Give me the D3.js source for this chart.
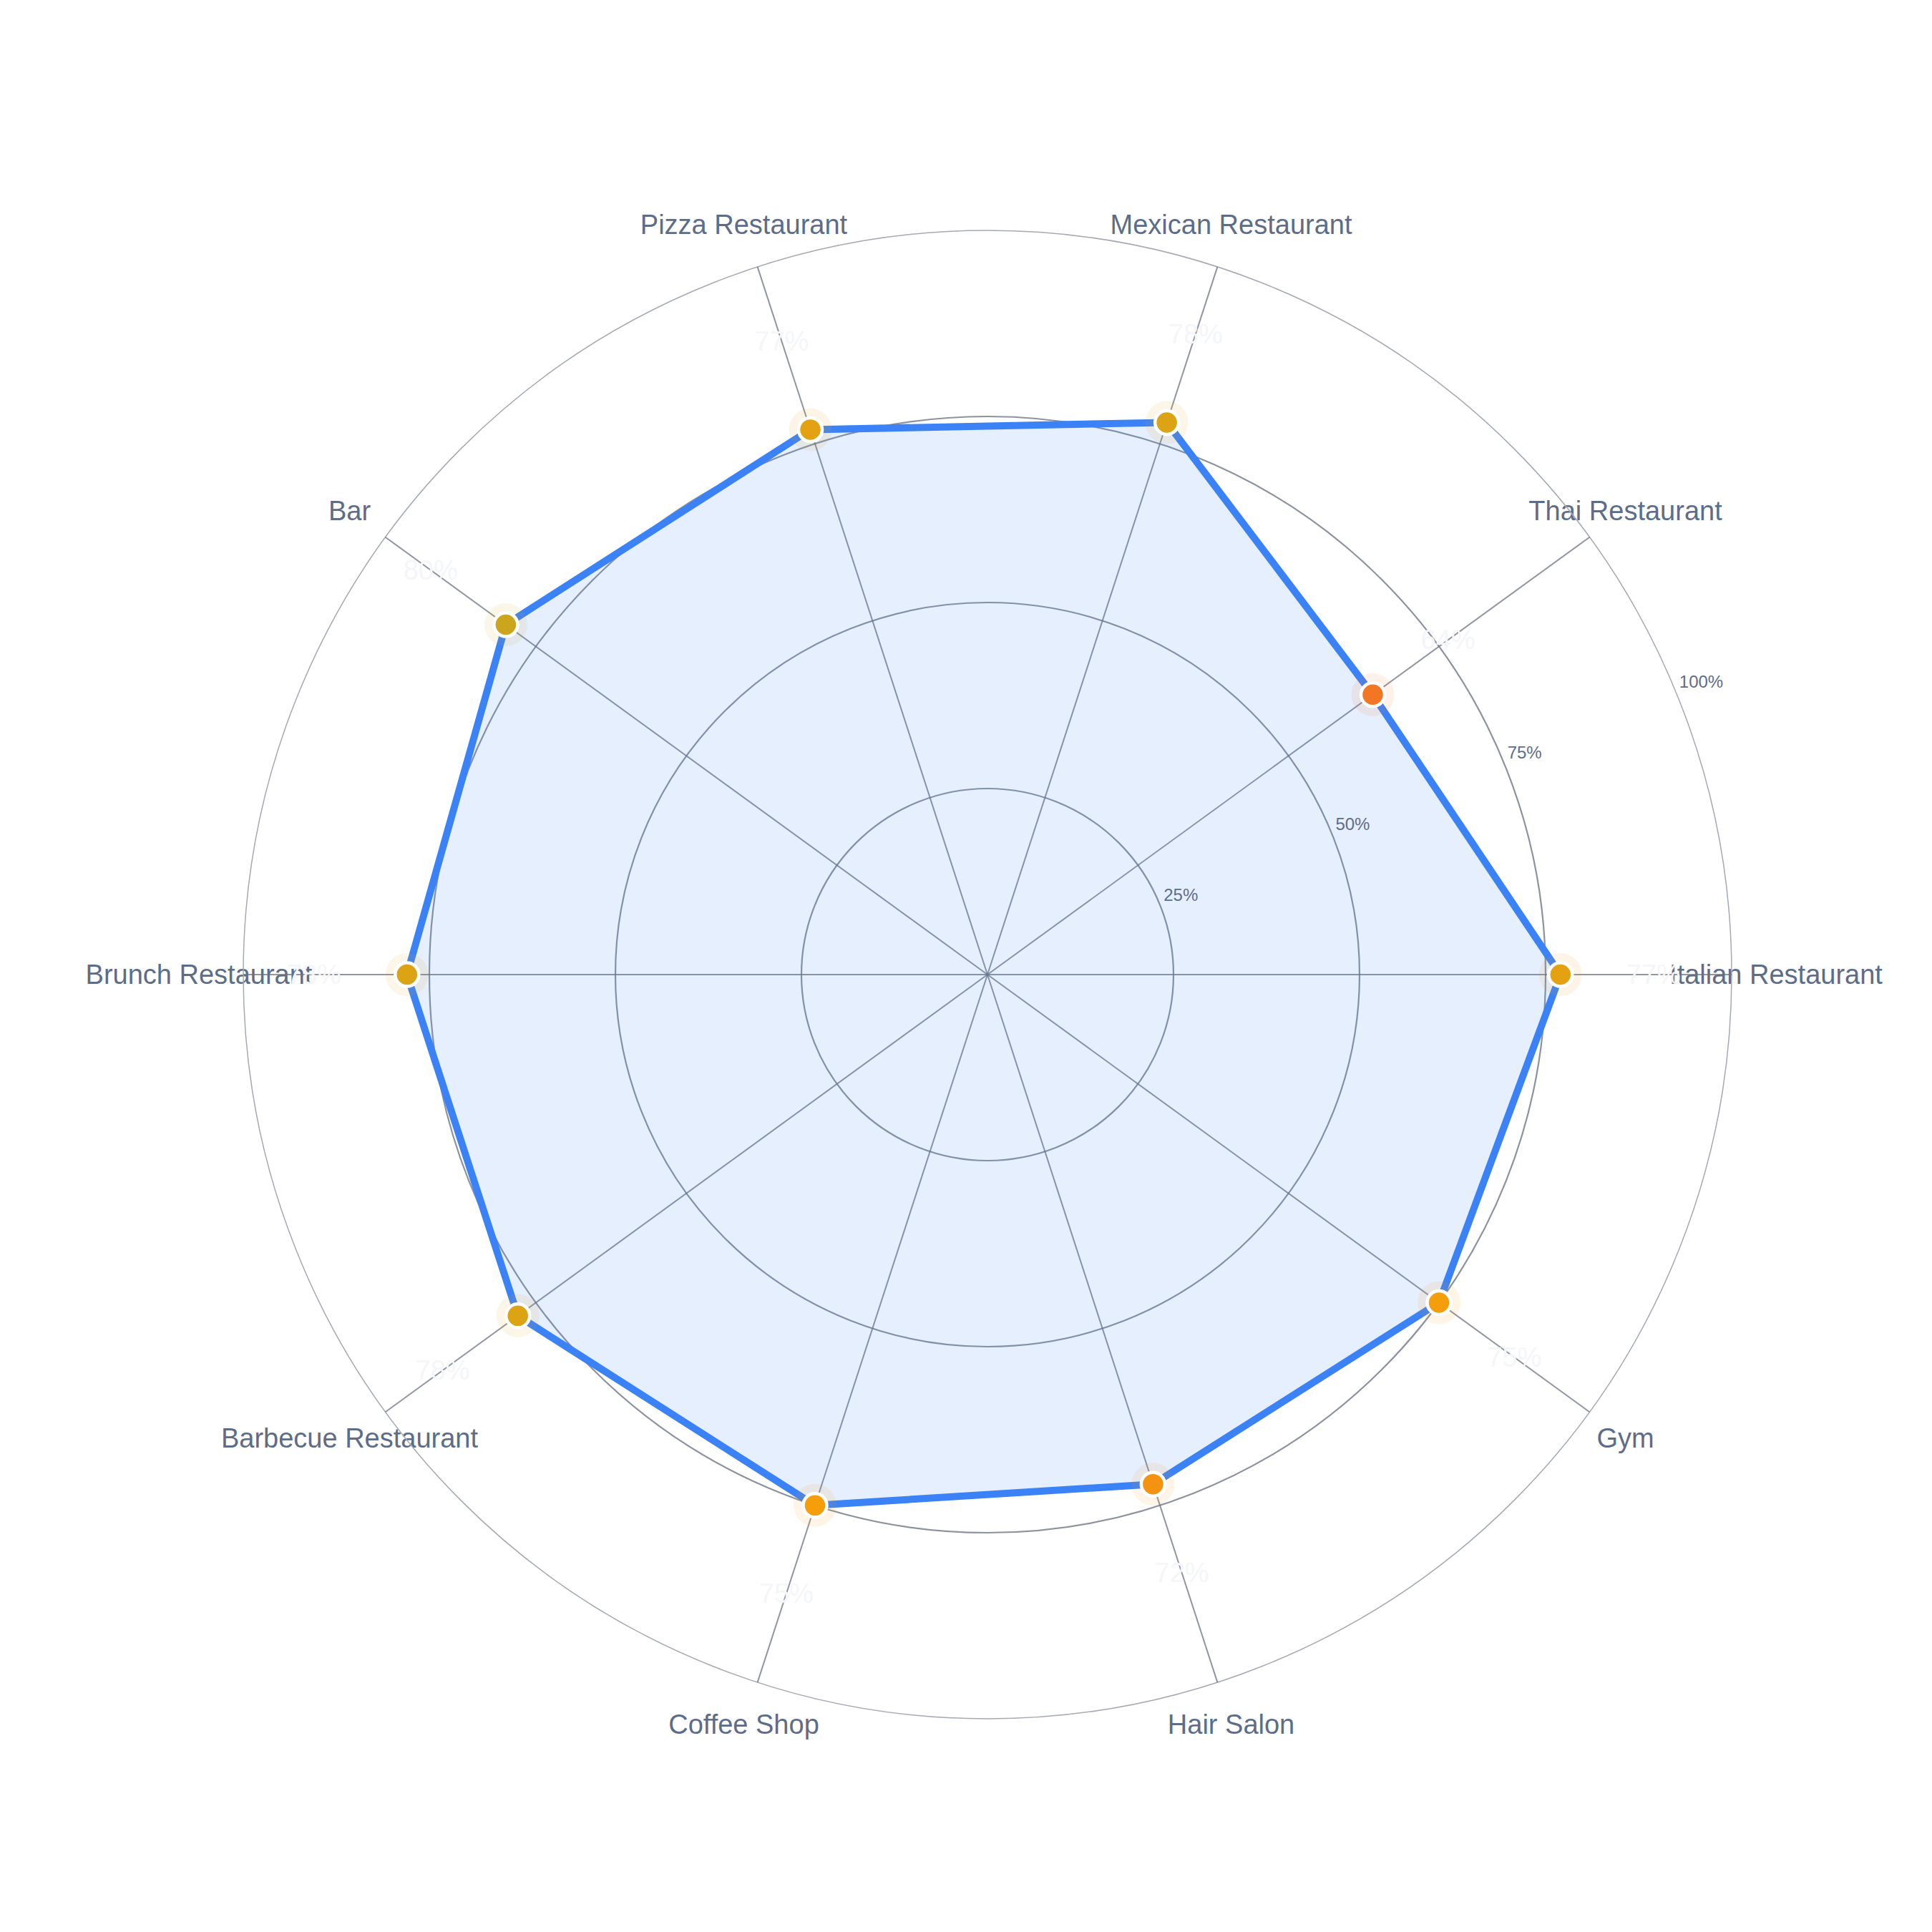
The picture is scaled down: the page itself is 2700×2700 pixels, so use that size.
<!DOCTYPE html>
<html>
<head>
<meta charset="utf-8">
<script src="https://cdn.jsdelivr.net/npm/d3@7"></script>
<style>
  html, body { margin: 0; padding: 0; background: #ffffff; }
  svg { display: block; }
</style>
</head>
<body>
<svg id="chart"></svg>
<script>
// chart data
const categories = ["Italian Restaurant", "Thai Restaurant", "Mexican Restaurant", "Pizza Restaurant", "Bar",
  "Brunch Restaurant", "Barbecue Restaurant", "Coffee Shop", "Hair Salon", "Gym"];
const values = [77, 64, 78, 77, 80, 78, 78, 75, 72, 75];
const ticks = [25, 50, 75, 100];

const width = 2700, height = 2700;
const cx = 1380, cy = 1362;
const outerR = 1040;

const svg = d3.select("#chart")
  .attr("width", width)
  .attr("height", height);

const g = svg.append("g")
  .attr("transform", `translate(${cx},${cy})`);

const rScale = d3.scaleLinear().domain([0, 100]).range([0, outerR]);
// angle measured counter-clockwise from the right (east)
const aScale = d3.scaleLinear().domain([0, categories.length]).range([0, 2 * Math.PI]);
const colorScale = d3.scaleLinear()
  .domain([50, 75, 100])
  .range(["#ef4444", "#f59e0b", "#22c55e"]);

const px = (i, r) => r * Math.cos(aScale(i));
const py = (i, r) => -r * Math.sin(aScale(i));

const font = "'Liberation Sans', Arial, Helvetica, sans-serif";

// category labels (drawn first, grid passes over them)
g.append("g").selectAll("text")
  .data(categories)
  .join("text")
  .attr("x", (d, i) => px(i, outerR + 62))
  .attr("y", (d, i) => py(i, outerR + 62))
  .attr("text-anchor", "middle")
  .attr("dominant-baseline", "central")
  .attr("font-family", font)
  .attr("font-size", 38)
  .attr("fill", "#5e6d87")
  .text(d => d);

// rings
g.append("g").selectAll("circle")
  .data(ticks)
  .join("circle")
  .attr("r", d => rScale(d))
  .attr("fill", "none")
  .attr("stroke", d => d === 100 ? "#a4a9b2" : "#8c939f")
  .attr("stroke-width", d => d === 100 ? 1.5 : 2.2);

// spokes
g.append("g").selectAll("line")
  .data(categories)
  .join("line")
  .attr("x1", 0).attr("y1", 0)
  .attr("x2", (d, i) => px(i, outerR))
  .attr("y2", (d, i) => py(i, outerR))
  .attr("stroke", "#6b7280")
  .attr("stroke-opacity", 0.75)
  .attr("stroke-width", 2);

// data polygon
const radial = d3.lineRadial()
  .angle((d, i) => Math.PI / 2 - aScale(i))
  .radius(d => rScale(d))
  .curve(d3.curveLinearClosed);

g.append("path")
  .datum(values)
  .attr("d", radial)
  .attr("fill", "#3b82f6")
  .attr("fill-opacity", 0.13)
  .attr("stroke", "none");

g.append("path")
  .datum(values)
  .attr("d", radial)
  .attr("fill", "none")
  .attr("stroke", "#3b82f6")
  .attr("stroke-width", 10)
  .attr("stroke-linejoin", "round");

// point halos
g.append("g").selectAll("circle")
  .data(values)
  .join("circle")
  .attr("cx", (d, i) => px(i, rScale(d)))
  .attr("cy", (d, i) => py(i, rScale(d)))
  .attr("r", 30)
  .attr("fill", d => colorScale(d))
  .attr("fill-opacity", 0.1);

// points
g.append("g").selectAll("circle")
  .data(values)
  .join("circle")
  .attr("cx", (d, i) => px(i, rScale(d)))
  .attr("cy", (d, i) => py(i, rScale(d)))
  .attr("r", 16.5)
  .attr("fill", d => colorScale(d))
  .attr("stroke", "#ffffff")
  .attr("stroke-width", 4.5);

// radial tick labels
const tickAngle = 22.5 * Math.PI / 180;
g.append("g").selectAll("text")
  .data(ticks)
  .join("text")
  .attr("x", d => rScale(d) * Math.cos(tickAngle) + 6)
  .attr("y", d => -rScale(d) * Math.sin(tickAngle) - 12)
  .attr("text-anchor", "start")
  .attr("dominant-baseline", "central")
  .attr("font-family", font)
  .attr("font-size", 24)
  .attr("fill", "#5e6d87")
  .text(d => d + "%");

// value labels (very faint)
g.append("g").selectAll("text")
  .data(values)
  .join("text")
  .attr("x", (d, i) => px(i, rScale(d) + 130))
  .attr("y", (d, i) => py(i, rScale(d) + 130))
  .attr("text-anchor", "middle")
  .attr("dominant-baseline", "central")
  .attr("font-family", font)
  .attr("font-size", 38)
  .attr("fill", "#f4f6f9")
  .text(d => d + "%");
</script>
</body>
</html>
